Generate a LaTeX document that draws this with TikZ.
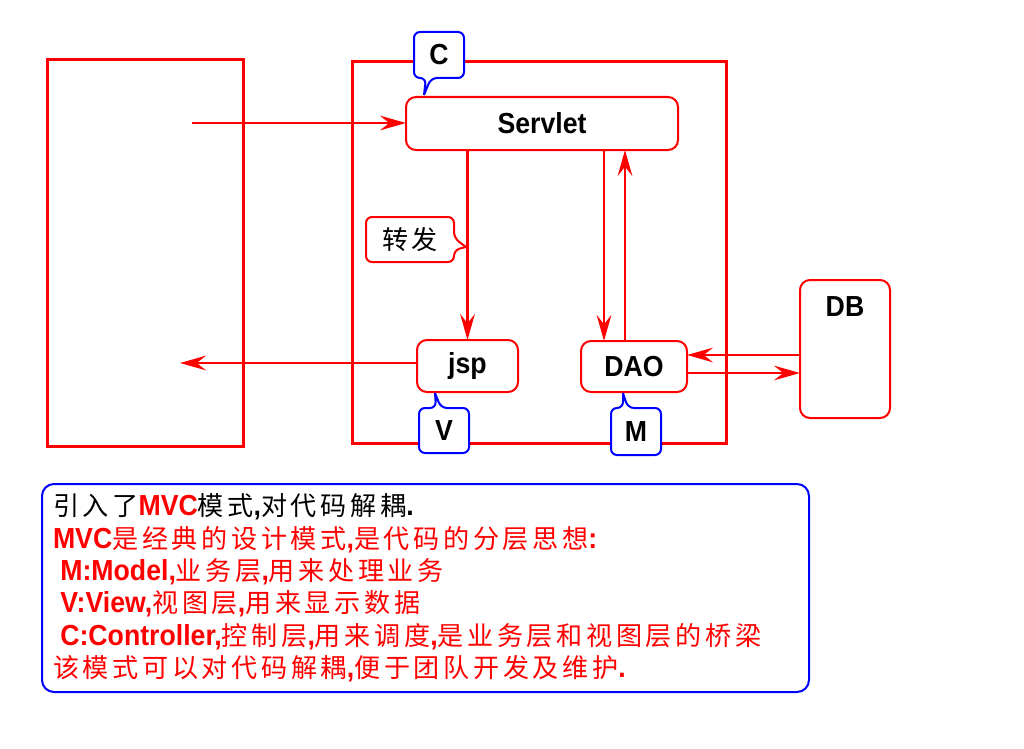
\documentclass[tikz,border=0pt]{standalone}
\usepackage{fontspec}
\setmainfont{Liberation Sans}[FakeStretch=0.92]
\newfontfamily\cjk{Noto Sans CJK SC}[Scale=0.9, LetterSpace=14]
\usetikzlibrary{positioning, calc, arrows.meta}
\definecolor{pptred}{RGB}{255,0,0}
\definecolor{pptblue}{RGB}{0,0,255}
\newcommand{\zh}[1]{{\cjk\mdseries #1}}
\tikzset{big/.style={font=\fontsize{21.75pt}{24.2pt}\selectfont\bfseries}}
\tikzset{frame/.style={draw=pptred, line width=2.25pt, inner sep=0, outer sep=0}}
\tikzset{box/.style={draw=pptred, line width=1.5pt, rounded corners=7.5pt, inner sep=0, outer sep=0, big}}
\tikzset{tagtext/.style={inner sep=0, outer sep=0, big}}
\tikzset{tag/.style={line width=1.5pt, rounded corners=4.5pt, fill=white}}
\tikzset{arr/.style={draw=pptred, line width=2pt, -{Stealth[length=19.5pt, width=11pt, inset=7pt]}}}
\tikzset{note/.style={align=left, inner sep=0, outer sep=0, big}}

\begin{document}
\begin{tikzpicture}[x=0.75pt, y=-0.75pt, font=\fontsize{21.75pt}{24.2pt}\selectfont]
	\useasboundingbox (0,0) rectangle (1024,749);
	% browser and server
	\node[frame, minimum width=147pt, minimum height=289.5pt] (browser) at (145,253) {};
	\node[frame, minimum width=280.5pt, minimum height=285.75pt] (server) at (539,252.5) {};
	%
	\node[box, minimum width=204pt, minimum height=39.75pt] (servlet) at (542,123.5) {Servlet};
	\node[box, minimum width=75.75pt, minimum height=39pt] (jsp) at (467.5,366) {jsp};
	\node[box, minimum width=79.5pt, minimum height=38.25pt] (dao) at (634,366.5) {DAO};
	\node[box, minimum width=67.5pt, minimum height=103.5pt,
		label={[big, anchor=north, yshift=-9pt]north:DB}] (db) at (845,349) {};
	%
	\coordinate (req) at (192,123);
	\coordinate (resp) at (180,363);
	\coordinate (daoIn) at ($(dao.north)+(-30,0)$);
	\coordinate (daoOut) at ($(dao.north)+(-9,0)$);
	\coordinate (dbOut) at ($(db.west)+(0,6)$);
	\coordinate (dbIn) at ($(db.west)+(0,24)$);
	\draw[arr] (req) -- (req -| servlet.west);
	\draw[arr] (resp -| jsp.west) -- (resp);
	\draw[arr] (servlet.south -| jsp.north) -- (jsp.north);
	\draw[arr] (daoIn |- servlet.south) -- (daoIn);
	\draw[arr] (daoOut) -- (daoOut |- servlet.south);
	\draw[arr] (dbOut) -- (dbOut -| dao.east);
	\draw[arr] (dbIn -| dao.east) -- (dbIn);
	%
	% tags
	\node[tagtext, minimum width=37.5pt, minimum height=34.5pt] (cTag) at (439,55) {};
	\coordinate (cTip) at (424,95);
	\draw[tag, draw=pptblue] (cTip) -- ($(cTag.south)+(-8,0)$) -- (cTag.south east)
		-- (cTag.north east) -- (cTag.north west) -- (cTag.south west)
		-- ($(cTag.south)+(-13,0)$) -- (cTip);
	\node[tagtext] at (cTag) {C};
	\node[tagtext, minimum width=37.5pt, minimum height=33.75pt] (vTag) at (444,430.5) {};
	\coordinate (vTip) at (435,393);
	\draw[tag, draw=pptblue] (vTip) -- ($(vTag.north)+(-3,0)$) -- (vTag.north east)
		-- (vTag.south east) -- (vTag.south west) -- (vTag.north west)
		-- ($(vTag.north)+(-8,0)$) -- (vTip);
	\node[tagtext] at (vTag) {V};
	\node[tagtext, minimum width=37.5pt, minimum height=35.25pt] (mTag) at (636,431.5) {};
	\coordinate (mTip) at (623,393);
	\draw[tag, draw=pptblue] (mTip) -- ($(mTag.north)+(-8,0)$) -- (mTag.north east)
		-- (mTag.south east) -- (mTag.south west) -- (mTag.north west)
		-- ($(mTag.north)+(-13,0)$) -- (mTip);
	\node[tagtext] at (mTag) {M};
	\node[tagtext, minimum width=66pt, minimum height=33.75pt] (fwdTag) at (410,239.5) {};
	\coordinate (fwdTip) at (466,247);
	\draw[tag, draw=pptred] (fwdTip) -- ($(fwdTag.east)+(0,10.5)$) -- (fwdTag.south east)
		-- (fwdTag.south west) -- (fwdTag.north west) -- (fwdTag.north east)
		-- ($(fwdTag.east)+(0,-1.5)$) -- (fwdTip);
	\node at (fwdTag) {\zh{转发}};
	%
	% notes
	\node[draw=pptblue, line width=1.5pt, rounded corners=9pt, minimum width=575.25pt,
		minimum height=156pt] (noteBox) at (425.5,588) {};
	\node[note, anchor=north west] (intro) at (53,494) {%
		\zh{引入了}\textcolor{pptred}{MVC}\zh{模式},\zh{对代码解耦}.\\
		\color{pptred}MVC\zh{是经典的设计模式},\zh{是代码的分层思想}:\\
		\color{pptred}\hspace*{5.5pt}M:Model,\zh{业务层},\zh{用来处理业务}\\
		\color{pptred}\hspace*{5.5pt}V:View,\zh{视图层},\zh{用来显示数据}\\
		\color{pptred}\hspace*{5.5pt}C:Controller,\zh{控制层},\zh{用来调度},\zh{是业务层和视图层的桥梁}\\
		\color{pptred}\zh{该模式可以对代码解耦},\zh{便于团队开发及维护}.};
\end{tikzpicture}
\end{document}
